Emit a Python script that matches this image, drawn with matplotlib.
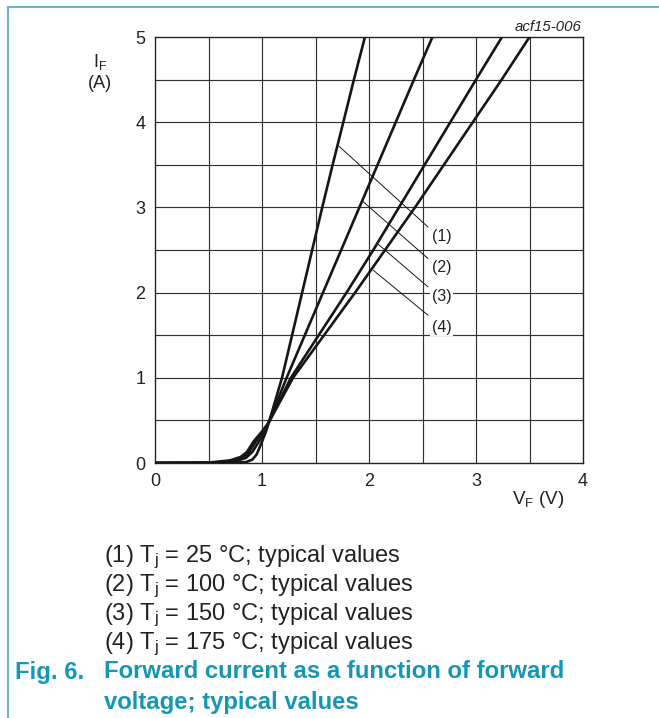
import matplotlib
matplotlib.use("Agg")
import matplotlib.pyplot as plt
from matplotlib.lines import Line2D
import numpy as np

plt.rcParams['font.family'] = ['Liberation Sans', 'DejaVu Sans']
plt.rcParams['mathtext.fontset'] = 'custom'
plt.rcParams['mathtext.rm'] = 'Liberation Sans'
plt.rcParams['mathtext.it'] = 'Liberation Sans:italic'

# ---- data ----
v1 = [0, 0.70, 0.85, 0.91, 0.95, 1.00, 1.04, 1.07, 1.187, 1.281, 1.375, 1.469, 1.563, 1.660, 1.760, 1.859, 1.962]
i1 = [0, 0.002, 0.01, 0.04, 0.10, 0.25, 0.38, 0.50, 1.0, 1.5, 2.0, 2.5, 3.0, 3.5, 4.0, 4.5, 5.0]

v2 = [0, 0.60, 0.75, 0.85, 0.91, 0.97, 1.02, 1.06, 1.23, 1.40, 1.57, 1.74, 1.91, 2.08, 2.25, 2.42, 2.593]
i2 = [0, 0.003, 0.02, 0.06, 0.13, 0.25, 0.35, 0.47, 1.0, 1.5, 2.0, 2.5, 3.0, 3.5, 4.0, 4.5, 5.0]

v3 = [0, 0.55, 0.72, 0.82, 0.88, 0.94, 1.00, 1.06, 1.27, 1.53, 1.79, 2.04, 2.28, 2.52, 2.76, 3.00, 3.243]
i3 = [0, 0.004, 0.025, 0.06, 0.13, 0.25, 0.35, 0.47, 1.0, 1.5, 2.0, 2.5, 3.0, 3.5, 4.0, 4.5, 5.0]

v4 = [0, 0.50, 0.70, 0.80, 0.86, 0.92, 1.00, 1.06, 1.29, 1.58, 1.87, 2.15, 2.43, 2.70, 2.97, 3.24, 3.50]
i4 = [0, 0.005, 0.03, 0.07, 0.13, 0.25, 0.37, 0.47, 1.0, 1.5, 2.0, 2.5, 3.0, 3.5, 4.0, 4.5, 5.0]

curve_labels = ["(1)", "(2)", "(3)", "(4)"]
x_ticks = [0, 1, 2, 3, 4]
y_ticks = [0, 1, 2, 3, 4, 5]
legend_lines = [
    r"(1) T$_\mathregular{j}$ = 25 °C; typical values",
    r"(2) T$_\mathregular{j}$ = 100 °C; typical values",
    r"(3) T$_\mathregular{j}$ = 150 °C; typical values",
    r"(4) T$_\mathregular{j}$ = 175 °C; typical values",
]
title_num = "Fig. 6."
title_lines = ["Forward current as a function of forward", "voltage; typical values"]

# ---- figure ----
W, H = 659, 718
fig = plt.figure(figsize=(W / 100, H / 100), dpi=100)
fig.patch.set_facecolor("white")

def fx(px):
    return px / W

def fy(py):
    return 1 - py / H

ax = fig.add_axes([fx(155), fy(463), fx(583) - fx(155), fy(37) - fy(463)])
ax.set_xlim(0, 4)
ax.set_ylim(0, 5)

grid_c = "#333333"
for gx in np.arange(0.5, 4.0, 0.5):
    ax.axvline(gx, color=grid_c, lw=0.85, zorder=1)
for gy in np.arange(0.5, 5.0, 0.5):
    ax.axhline(gy, color=grid_c, lw=0.85, zorder=1)

for s in ax.spines.values():
    s.set_linewidth(1.0)
    s.set_color("#222222")

ax.set_xticks(x_ticks)
ax.set_yticks(y_ticks)
ax.tick_params(length=0, labelsize=13, colors="#222222", pad=7)
ax.set_xticklabels([str(t) for t in x_ticks])
ax.set_yticklabels([str(t) for t in y_ticks])

curve_c = "#161616"
for v, i in [(v1, i1), (v2, i2), (v3, i3), (v4, i4)]:
    ax.plot(v, i, color=curve_c, lw=1.9, solid_joinstyle="round", zorder=3, clip_on=True)

# leader lines and curve labels
leaders = [((1.721, 3.716), (2.551, 2.77), 2.66),
           ((1.934, 3.08), (2.551, 2.40), 2.30),
           ((2.074, 2.58), (2.551, 2.067), 1.96),
           ((2.042, 2.26), (2.551, 1.735), 1.59)]
for (p0, p1, ly), lab in zip(leaders, curve_labels):
    ax.plot([p0[0], p1[0]], [p0[1], p1[1]], color=curve_c, lw=0.7, zorder=4)
    ax.text(2.585, ly, lab, fontsize=11.5, color="#222222", ha="left", va="center", zorder=5,
            bbox=dict(facecolor="white", edgecolor="none", pad=1.0))

# axis labels
fig.text(fx(100), fy(62), r"I$_\mathregular{F}$", fontsize=13, color="#222222", ha="center", va="center")
fig.text(fx(100), fy(83), "(A)", fontsize=13, color="#222222", ha="center", va="center")
fig.text(fx(538), fy(500), r"V$_\mathregular{F}$ (V)", fontsize=13.5, color="#222222", ha="center", va="center")
fig.text(fx(582), fy(27), "acf15-006", fontsize=10.8, style="italic", color="#222222", ha="right", va="center")

# legend text
for k, line in enumerate(legend_lines):
    fig.text(fx(104), fy(557 + k * 29), line, fontsize=17, color="#222222", ha="left", va="center")

teal = "#1497b5"
fig.text(fx(15), fy(672), title_num, fontsize=17.2, fontweight="bold", color=teal, ha="left", va="center")
fig.text(fx(104), fy(672), title_lines[0], fontsize=17.2, fontweight="bold", color=teal, ha="left", va="center")
fig.text(fx(104), fy(702), title_lines[1], fontsize=17.2, fontweight="bold", color=teal, ha="left", va="center")

# border
border_c = "#6bb3c7"
fig.add_artist(Line2D([fx(8), fx(8)], [fy(7), 0], color=border_c, lw=1.5))
fig.add_artist(Line2D([fx(8), 1], [fy(7), fy(7)], color=border_c, lw=1.5))

fig.savefig("out.png", dpi=100, facecolor="white")
